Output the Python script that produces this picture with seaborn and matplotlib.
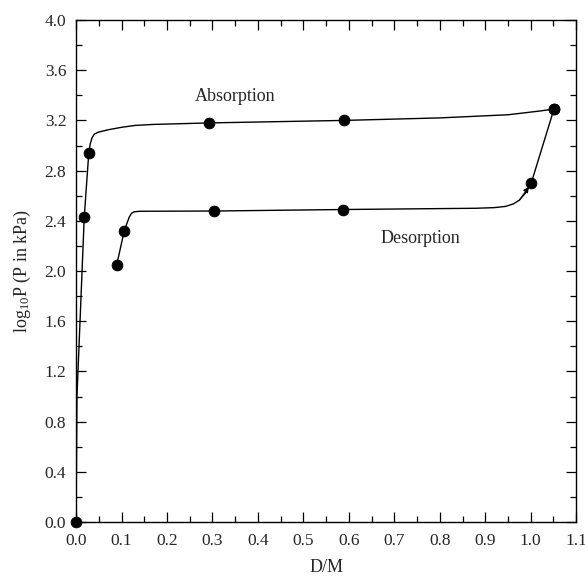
import numpy as np
import pandas as pd
import seaborn as sns
import matplotlib
matplotlib.use("Agg")
import matplotlib.pyplot as plt
from matplotlib.ticker import MultipleLocator

# measured points (markers)
abs_x = [0.0, 0.018, 0.028, 0.293, 0.590, 1.051]
abs_y = [0.0, 2.43, 2.94, 3.18, 3.20, 3.29]
des_x = [0.0895, 0.106, 0.304, 0.588, 1.001, 1.051]
des_y = [2.05, 2.32, 2.478, 2.49, 2.70, 3.29]

# hand-drawn guide curves
abs_curve_x = [0.0, 0.002, 0.011, 0.018, 0.028, 0.031, 0.035, 0.040, 0.048,
               0.07, 0.10, 0.13, 0.17, 0.293, 0.59, 0.80, 0.95, 0.99, 1.02,
               1.04, 1.051]
abs_curve_y = [0.0, 1.0, 1.8, 2.43, 2.94, 3.01, 3.06, 3.09, 3.105,
               3.125, 3.145, 3.16, 3.168, 3.18, 3.20, 3.22, 3.245, 3.262, 3.275,
               3.285, 3.29]
des_curve_x = [0.0895, 0.106, 0.112, 0.117, 0.122, 0.128, 0.14, 0.304, 0.588,
               0.88, 0.92, 0.945, 0.962, 0.975, 0.988, 1.001, 1.051]
des_curve_y = [2.05, 2.32, 2.38, 2.43, 2.46, 2.472, 2.476, 2.478, 2.49,
               2.50, 2.505, 2.515, 2.535, 2.565, 2.62, 2.70, 3.29]

x_ticks = [0.0, 0.1, 0.2, 0.3, 0.4, 0.5, 0.6, 0.7, 0.8, 0.9, 1.0, 1.1]
y_ticks = [0.0, 0.4, 0.8, 1.2, 1.6, 2.0, 2.4, 2.8, 3.2, 3.6, 4.0]

sns.set_style("ticks")
plt.rcParams['font.family'] = ['Liberation Serif', 'DejaVu Serif']
plt.rcParams['mathtext.fontset'] = 'custom'
plt.rcParams['mathtext.rm'] = 'Liberation Serif'
plt.rcParams['mathtext.it'] = 'Liberation Serif:italic'

fig = plt.figure(figsize=(5.85, 5.80), dpi=100)
ax = fig.add_axes([0.130, 0.100, 0.855, 0.8655])

curves = pd.concat([
    pd.DataFrame({'x': abs_curve_x, 'y': abs_curve_y, 'run': 'abs'}),
    pd.DataFrame({'x': des_curve_x, 'y': des_curve_y, 'run': 'des'}),
])
pts = pd.DataFrame({'x': abs_x + des_x, 'y': abs_y + des_y})

sns.lineplot(data=curves, x='x', y='y', units='run', estimator=None, sort=False,
             color='black', linewidth=1.0, ax=ax)
sns.scatterplot(data=pts, x='x', y='y', color='black', s=60, edgecolor='black',
                zorder=5, clip_on=False, ax=ax)

# small arrow head on the desorption curve into the 1.0 point
ax.annotate('', xy=(des_curve_x[-2] - 0.005, des_curve_y[-2] - 0.03),
            xytext=(des_curve_x[-4], des_curve_y[-4]),
            arrowprops=dict(arrowstyle='-|>', color='black', lw=0.8,
                            mutation_scale=8, shrinkA=0, shrinkB=0))

ax.text(0.35, 3.39, 'Absorption', fontsize=13, ha='center', va='center')
ax.text(0.757, 2.26, 'Desorption', fontsize=13, ha='center', va='center')

ax.set_xlim(0, 1.1)
ax.set_ylim(0, 4.0)
ax.set_xticks(x_ticks)
ax.set_yticks(y_ticks)
ax.set_xticklabels([f'{v:.1f}' for v in x_ticks])
ax.set_yticklabels([f'{v:.1f}' for v in y_ticks])
ax.xaxis.set_minor_locator(MultipleLocator(0.05))
ax.yaxis.set_minor_locator(MultipleLocator(0.2))
ax.tick_params(which='both', direction='in', top=True, right=True,
               labelsize=12.5, width=0.9, color='black')
ax.tick_params(which='major', length=7, pad=7)
ax.tick_params(axis='x', which='major', pad=8)
ax.tick_params(which='minor', length=4.5)
for s in ax.spines.values():
    s.set_visible(True)
    s.set_linewidth(1.0)
    s.set_color('black')

ax.set_xlabel('D/M', fontsize=13, labelpad=7)
ax.set_ylabel(r'log$_{10}$P (P in kPa)', fontsize=13, labelpad=8)

fig.savefig('out.png', dpi=100)
